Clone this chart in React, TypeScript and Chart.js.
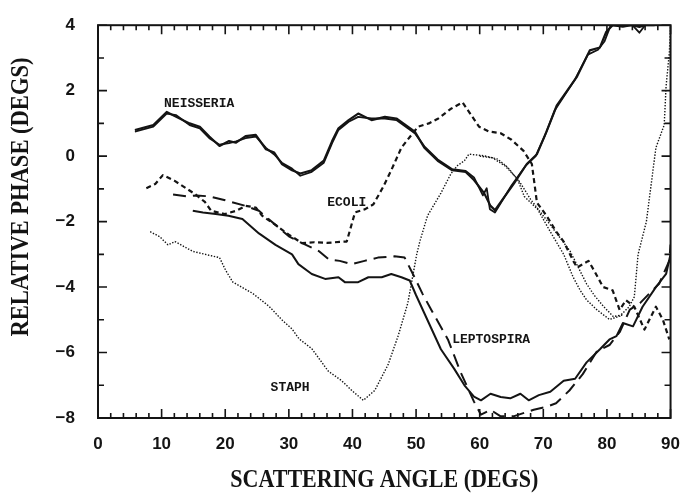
import React, { useEffect, useRef } from "react";
import { Chart, registerables } from "chart.js";
Chart.register(...registerables);

// ---- Data (scattering angle in degrees, relative phase in degrees) ----
const NEIS_A_X = [5.8, 8.7, 10.8, 12.3, 14.4, 16, 17.5, 19.1, 20.6, 21.7, 23.2, 24.8, 26.4, 27.7, 28.9, 30.5, 31.8, 33.6, 35.5, 36.8, 37.8, 39.4, 40.9, 43, 45.1, 46.9, 49.8, 51.3, 53.4, 55.7, 57.8, 59.1, 60.7, 61.7, 62.4, 65.4, 67.4, 69, 70.5, 72.1, 75.3, 77.3, 78.9, 79.9, 80.9, 82.5, 84, 85.1, 86, 87.5];
const NEIS_A_Y = [0.8, 0.95, 1.35, 1.2, 1.0, 0.9, 0.6, 0.31, 0.46, 0.41, 0.61, 0.65, 0.21, 0.11, -0.24, -0.43, -0.53, -0.43, -0.14, 0.46, 0.85, 1.1, 1.3, 1.1, 1.2, 1.15, 0.75, 0.26, -0.14, -0.43, -0.48, -0.73, -1.13, -1.52, -1.65, -0.83, -0.24, 0.06, 0.75, 1.54, 2.43, 3.23, 3.32, 3.8, 4.0, 4.0, 4.0, 3.95, 4.0, 4.0];
const NEIS_B_X = [5.8, 8.7, 10.8, 12.3, 14.4, 16, 17.5, 19.1, 20.6, 21.7, 23.2, 24.8, 26.4, 27.7, 28.9, 30.5, 31.8, 33.6, 35.5, 36.8, 37.8, 39.4, 40.9, 43, 45.1, 46.9, 49.8, 51.3, 53.4, 55.7, 57.8, 59.1, 60.5, 61.1, 61.6, 62.4, 65, 67.2, 68.8, 70.2, 71.8, 75, 77, 78.6, 79.6, 80.6, 82.5, 84, 85.1, 86, 87.5];
const NEIS_B_Y = [0.75, 0.9, 1.3, 1.25, 0.95, 0.85, 0.55, 0.35, 0.4, 0.45, 0.55, 0.6, 0.25, 0.05, -0.2, -0.38, -0.6, -0.48, -0.2, 0.4, 0.8, 1.05, 1.2, 1.15, 1.15, 1.1, 0.7, 0.3, -0.1, -0.4, -0.45, -0.65, -1.2, -0.98, -1.62, -1.72, -0.9, -0.3, 0.0, 0.6, 1.4, 2.35, 3.1, 3.25, 3.5, 4.0, 3.95, 4.0, 3.77, 4.0, 4.0];

const ECOLI_X = [7.6, 9, 10.2, 12, 14, 15.4, 16.8, 17.8, 19.9, 21.7, 23.2, 24.8, 25.8, 27.9, 30, 32.1, 34, 36, 38, 39.1, 40.4, 42, 43.3, 44.8, 46.1, 47.7, 50.3, 52, 53.5, 55.5, 57.3, 58.5, 59.9, 61.5, 63.3, 65, 66.9, 68.2, 69, 70.5, 72, 73.2, 74.7, 75.3, 77.1, 78, 79.4, 80.9, 82, 83, 84.3, 85.9, 87.7, 88.8, 89.8];
const ECOLI_Y = [-0.98, -0.85, -0.58, -0.75, -1.0, -1.18, -1.4, -1.67, -1.77, -1.67, -1.52, -1.57, -1.82, -2.1, -2.4, -2.66, -2.63, -2.65, -2.62, -2.61, -1.72, -1.62, -1.47, -0.95, -0.43, 0.26, 0.9, 1.0, 1.15, 1.45, 1.64, 1.3, 0.9, 0.75, 0.7, 0.5, 0.16, -0.24, -1.42, -1.82, -2.3, -2.61, -3.2, -3.4, -3.2, -3.5, -4.0, -4.1, -4.7, -4.4, -4.6, -5.3, -4.6, -5.0, -5.6];

const STAPH_A_X = [8.2, 9.7, 11, 12.1, 14.9, 17.5, 19.1, 20.1, 21.2, 24.3, 26.9, 28.9, 30.5, 31.6, 33.6, 36.2, 38.3, 39.9, 41.7, 43.5, 45.6, 47.2, 48.7, 50.1, 50.6, 51.8, 53.9, 55.5, 56.5, 57.6, 58.3, 60.7, 62.8, 64.4, 66, 67, 69.1, 71.1, 73.2, 74.7, 75.8, 76.8, 78.4, 80.4, 82, 83.5, 84.3, 84.9, 86.2, 87.7, 89, 89.3, 89.8, 90];
const STAPH_A_Y = [-2.31, -2.46, -2.71, -2.61, -2.91, -3.03, -3.1, -3.5, -3.85, -4.19, -4.59, -5.0, -5.28, -5.58, -5.88, -6.57, -6.86, -7.16, -7.46, -7.16, -6.37, -5.48, -4.49, -3.0, -2.6, -1.82, -1.13, -0.53, -0.29, -0.14, 0.06, 0.01, -0.09, -0.34, -0.73, -1.23, -1.62, -2.31, -3.0, -3.7, -4.1, -4.39, -4.69, -4.99, -4.89, -4.6, -4.3, -3.0, -2.0, 0.26, 0.95, 2.14, 3.13, 4.0];
const STAPH_B_X = [60, 62, 64, 66.1, 68, 71.1, 74.2, 75.5, 76.8, 78, 79.5, 81, 82.5];
const STAPH_B_Y = [0.0, -0.05, -0.3, -0.73, -1.32, -2.1, -2.9, -3.4, -3.9, -4.25, -4.6, -4.9, -4.85];

const LEPTO_D_X = [11.8, 13.9, 15.5, 17.5, 20, 23.2, 25.3, 27.9, 30, 32.1, 34.7, 36.3, 38, 39.9, 41.9, 44, 46.6, 48.2, 49.5, 51, 52.4, 55, 57, 59.1, 60.2, 61.7, 63.3, 65.3, 68.5, 70.5, 72, 74.1, 76.2, 78.4, 80.4, 82, 83.6, 85.2, 86.7, 88.2, 89.8, 90];
const LEPTO_D_Y = [-1.17, -1.23, -1.2, -1.23, -1.35, -1.52, -1.67, -2.1, -2.45, -2.66, -2.9, -3.16, -3.2, -3.3, -3.2, -3.1, -3.06, -3.1, -3.6, -4.2, -4.7, -5.6, -6.6, -7.5, -7.9, -7.75, -7.95, -7.95, -7.75, -7.66, -7.55, -7.16, -6.66, -5.97, -5.77, -5.38, -4.69, -4.49, -4.19, -3.9, -3.2, -2.7];
const LEPTO_S_X = [14.9, 16.5, 18.5, 20.5, 22.7, 25.3, 27.9, 30.5, 31.5, 33.6, 35.7, 37.8, 38.8, 40.9, 42.5, 44.6, 46.1, 47.7, 49, 50, 51.3, 53.9, 56, 57.6, 59.1, 60.2, 61.7, 63.3, 64.8, 66.4, 67.7, 69.3, 71.1, 73.2, 75, 76.8, 78.9, 80.4, 81.5, 82.5, 84.1, 85.6, 87.7, 89.3, 90];
const LEPTO_S_Y = [-1.67, -1.72, -1.77, -1.82, -1.92, -2.36, -2.71, -3.0, -3.3, -3.6, -3.75, -3.7, -3.85, -3.85, -3.7, -3.7, -3.6, -3.7, -3.8, -4.25, -4.8, -5.9, -6.5, -7.0, -7.35, -7.46, -7.26, -7.36, -7.4, -7.26, -7.46, -7.3, -7.2, -6.86, -6.8, -6.3, -5.9, -5.6, -5.5, -5.1, -5.2, -4.6, -4.0, -3.6, -3.0];

const LABEL_TEXT = ["NEISSERIA", "ECOLI", "STAPH", "LEPTOSPIRA"];
const LABEL_X = [15.9, 39.1, 30.2, 61.8];
const LABEL_Y = [1.59, -1.41, -7.09, -5.62];

const X_MIN = 0, X_MAX = 90, X_MAJOR = 10, X_MINOR = 2;
const Y_MIN = -8, Y_MAX = 4, Y_MAJOR = 2, Y_MINOR = 1;
const X_TITLE = "SCATTERING ANGLE (DEGS)";
const Y_TITLE = "RELATIVE PHASE (DEGS)";

const INK = "#141414";

function pts(xs: number[], ys: number[]) {
  return xs.map((x, i) => ({ x, y: ys[i] }));
}

function fmt(v: number) {
  return v < 0 ? "\u2212" + Math.abs(v) : String(v);
}

const framePlugin = {
  id: "frame",
  afterDatasetsDraw(chart: any) {
    const { ctx, chartArea: a, scales } = chart;
    const xs = scales.x, ys = scales.y;
    ctx.save();
    ctx.strokeStyle = INK;
    ctx.lineWidth = 2;
    ctx.setLineDash([]);
    ctx.strokeRect(a.left, a.top, a.right - a.left, a.bottom - a.top);
    ctx.lineWidth = 1.6;
    ctx.beginPath();
    for (let v = X_MIN; v <= X_MAX + 1e-9; v += X_MINOR) {
      const px = xs.getPixelForValue(v);
      const len = Math.abs(v % X_MAJOR) < 1e-9 ? 9 : 5;
      ctx.moveTo(px, a.bottom); ctx.lineTo(px, a.bottom - len);
      ctx.moveTo(px, a.top); ctx.lineTo(px, a.top + len);
    }
    for (let v = Y_MIN; v <= Y_MAX + 1e-9; v += Y_MINOR) {
      const py = ys.getPixelForValue(v);
      const len = Math.abs(v % Y_MAJOR) < 1e-9 ? 9 : 6;
      ctx.moveTo(a.left, py); ctx.lineTo(a.left + len, py);
      ctx.moveTo(a.right, py); ctx.lineTo(a.right - len, py);
    }
    ctx.stroke();

    // species labels, placed in data coordinates
    ctx.fillStyle = INK;
    ctx.font = 'bold 13px "Liberation Mono", monospace';
    ctx.textAlign = "center";
    ctx.textBaseline = "middle";
    LABEL_TEXT.forEach((t, i) => {
      ctx.fillText(t, xs.getPixelForValue(LABEL_X[i]), ys.getPixelForValue(LABEL_Y[i]));
    });

    // axis titles
    ctx.font = 'bold 25px "Liberation Serif", serif';
    const cx = (a.left + a.right) / 2;
    let w = ctx.measureText(X_TITLE).width;
    ctx.save();
    ctx.translate(cx, 481);
    ctx.scale(308 / w, 1);
    ctx.fillText(X_TITLE, 0, 0);
    ctx.restore();

    w = ctx.measureText(Y_TITLE).width;
    ctx.save();
    ctx.translate(22, 197);
    ctx.rotate(-Math.PI / 2);
    ctx.scale(279 / w, 1);
    ctx.fillText(Y_TITLE, 0, 0);
    ctx.restore();
    ctx.restore();
  },
};

export default function App() {
  const ref = useRef<HTMLCanvasElement | null>(null);
  useEffect(() => {
    if (!ref.current) return;
    const line = (data: any, width: number, dash: number[]) => ({
      data,
      borderColor: INK,
      borderWidth: width,
      borderDash: dash,
      pointRadius: 0,
      tension: 0,
      fill: false,
      borderCapStyle: "butt",
      borderJoinStyle: "round",
    });
    const chart = new Chart(ref.current, {
      type: "line",
      data: {
        datasets: [
          line(pts(NEIS_A_X, NEIS_A_Y), 2.2, []),
          line(pts(NEIS_B_X, NEIS_B_Y), 1.8, []),
          line(pts(ECOLI_X, ECOLI_Y), 2.2, [5, 3.5]),
          line(pts(STAPH_A_X, STAPH_A_Y), 1.4, [1.4, 1.6]),
          line(pts(STAPH_B_X, STAPH_B_Y), 1.4, [1.4, 1.6]),
          line(pts(LEPTO_D_X, LEPTO_D_Y), 2, [13, 7]),
          line(pts(LEPTO_S_X, LEPTO_S_Y), 2, []),
        ] as any,
      },
      options: {
        animation: false,
        responsive: false,
        events: [],
        layout: { padding: { top: 14, right: 13, left: 0, bottom: 0 } },
        plugins: { legend: { display: false }, tooltip: { enabled: false } },
        scales: {
          x: {
            type: "linear",
            min: X_MIN,
            max: X_MAX,
            grid: { display: false },
            border: { display: false },
            ticks: {
              stepSize: X_MAJOR,
              autoSkip: false,
              maxRotation: 0,
              padding: 8,
              color: INK,
              font: { family: '"Liberation Sans", Arial, sans-serif', size: 17, weight: "bold" },
              callback: (v: any) => fmt(Number(v)),
            },
            afterFit: (s: any) => { s.height = 79; },
          },
          y: {
            type: "linear",
            min: Y_MIN,
            max: Y_MAX,
            grid: { display: false },
            border: { display: false },
            ticks: {
              stepSize: Y_MAJOR,
              autoSkip: false,
              padding: 15,
              color: INK,
              font: { family: '"Liberation Sans", Arial, sans-serif', size: 17, weight: "bold" },
              callback: (v: any) => fmt(Number(v)),
            },
            afterFit: (s: any) => { s.width = 98; },
          },
        },
      } as any,
      plugins: [framePlugin],
    });
    return () => chart.destroy();
  }, []);
  return (
    <div style={{ position: "absolute", left: 0, top: 0, width: 688, height: 497, background: "#fff" }}>
      <canvas ref={ref} width={688} height={497} style={{ display: "block", width: 688, height: 497 }} />
    </div>
  );
}
